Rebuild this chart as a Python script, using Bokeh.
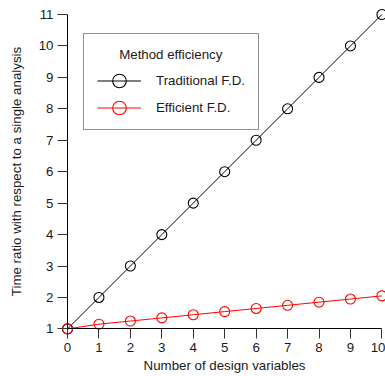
from bokeh.plotting import figure
from bokeh.models import Range1d, FixedTicker, Legend, LegendItem, ColumnDataSource
from bokeh.embed import file_html
from bokeh.resources import INLINE

# ---- data ----
design_vars = [0, 1, 2, 3, 4, 5, 6, 7, 8, 9, 10]
traditional = [1, 2, 3, 4, 5, 6, 7, 8, 9, 10, 11]
efficient = [1, 1.15, 1.25, 1.35, 1.45, 1.55, 1.65, 1.75, 1.85, 1.95, 2.05]
x_ticks = [0, 1, 2, 3, 4, 5, 6, 7, 8, 9, 10]
y_ticks = [1, 2, 3, 4, 5, 6, 7, 8, 9, 10, 11]
series_names = ["Traditional F.D.", "Efficient F.D."]
legend_title = "Method efficiency"
x_label = "Number of design variables"
y_label = "Time ratio with respect to a single analysis"

FONT = "Liberation Sans"
FS = "13.3px"
TXT = "#1a1a1a"

# layout (pixels): the frame covers the whole canvas, axes are placed at
# fixed data locations inside it so that no marker is clipped.
W, H = 385, 376
AX_LEFT, AX_RIGHT = 67.0, 381.4     # pixel of x=0 and x=10
AX_TOP, AX_BOTTOM = 14.0, 328.4     # pixel of y=11 and y=1
ppx = (AX_RIGHT - AX_LEFT) / (x_ticks[-1] - x_ticks[0])
ppy = (AX_BOTTOM - AX_TOP) / (y_ticks[-1] - y_ticks[0])
x0 = x_ticks[0] - AX_LEFT / ppx
x1 = x0 + W / ppx
y0 = y_ticks[0] - (H - AX_BOTTOM) / ppy
y1 = y0 + H / ppy

p = figure(width=W, height=H, output_backend="svg", toolbar_location=None,
           x_range=Range1d(x0, x1), y_range=Range1d(y0, y1), min_border=0)
p.outline_line_color = None
p.grid.visible = False
p.background_fill_color = "white"
p.border_fill_color = "white"

src_t = ColumnDataSource(dict(x=design_vars, y=traditional))
src_e = ColumnDataSource(dict(x=design_vars, y=efficient))

lt = p.line("x", "y", source=src_t, line_color="black", line_width=1)
st = p.ellipse("x", "y", width=10, height=10, width_units="screen",
               height_units="screen", source=src_t, fill_color=None,
               line_color="black", line_width=1.1)
le = p.line("x", "y", source=src_e, line_color="#ff0000", line_width=1)
se = p.ellipse("x", "y", width=10, height=10, width_units="screen",
               height_units="screen", source=src_e, fill_color=None,
               line_color="#ff0000", line_width=1.1)

for ax, ticks, loc, lab in ((p.xaxis[0], x_ticks, y_ticks[0], x_label),
                            (p.yaxis[0], y_ticks, x_ticks[0], y_label)):
    ax.ticker = FixedTicker(ticks=ticks)
    ax.fixed_location = loc
    ax.bounds = (ticks[0], ticks[-1])
    ax.axis_label = lab
    ax.axis_line_color = "black"
    ax.axis_line_width = 1
    ax.major_tick_line_color = "#333333"
    ax.major_tick_out = 10
    ax.major_tick_in = 0
    ax.minor_tick_line_color = None
    ax.major_label_text_font = FONT
    ax.major_label_text_font_size = FS
    ax.major_label_text_color = TXT
    ax.axis_label_text_font = FONT
    ax.axis_label_text_font_size = FS
    ax.axis_label_text_font_style = "normal"
    ax.axis_label_text_color = TXT
    ax.major_label_standoff = 4

p.xaxis[0].axis_label_standoff = 3
p.yaxis[0].axis_label_standoff = 12

legend = Legend(items=[LegendItem(label=series_names[0], renderers=[lt, st]),
                       LegendItem(label=series_names[1], renderers=[le, se])],
                location=(83, H - 130),
                title="\u00a0" * 6 + legend_title)
legend.title_text_font = FONT
legend.title_text_font_size = FS
legend.title_text_font_style = "normal"
legend.title_text_color = TXT
legend.title_standoff = 10
legend.label_text_font = FONT
legend.label_text_font_size = FS
legend.label_text_color = TXT
legend.glyph_width = 44
legend.glyph_height = 17
legend.label_height = 17
legend.label_standoff = 15
legend.spacing = 10
legend.padding = 13
legend.margin = 0
legend.border_line_color = "#222222"
legend.border_line_width = 1
legend.background_fill_color = "white"
legend.background_fill_alpha = 1
p.add_layout(legend, "center")

open("out.html", "w").write(file_html(p, INLINE))
